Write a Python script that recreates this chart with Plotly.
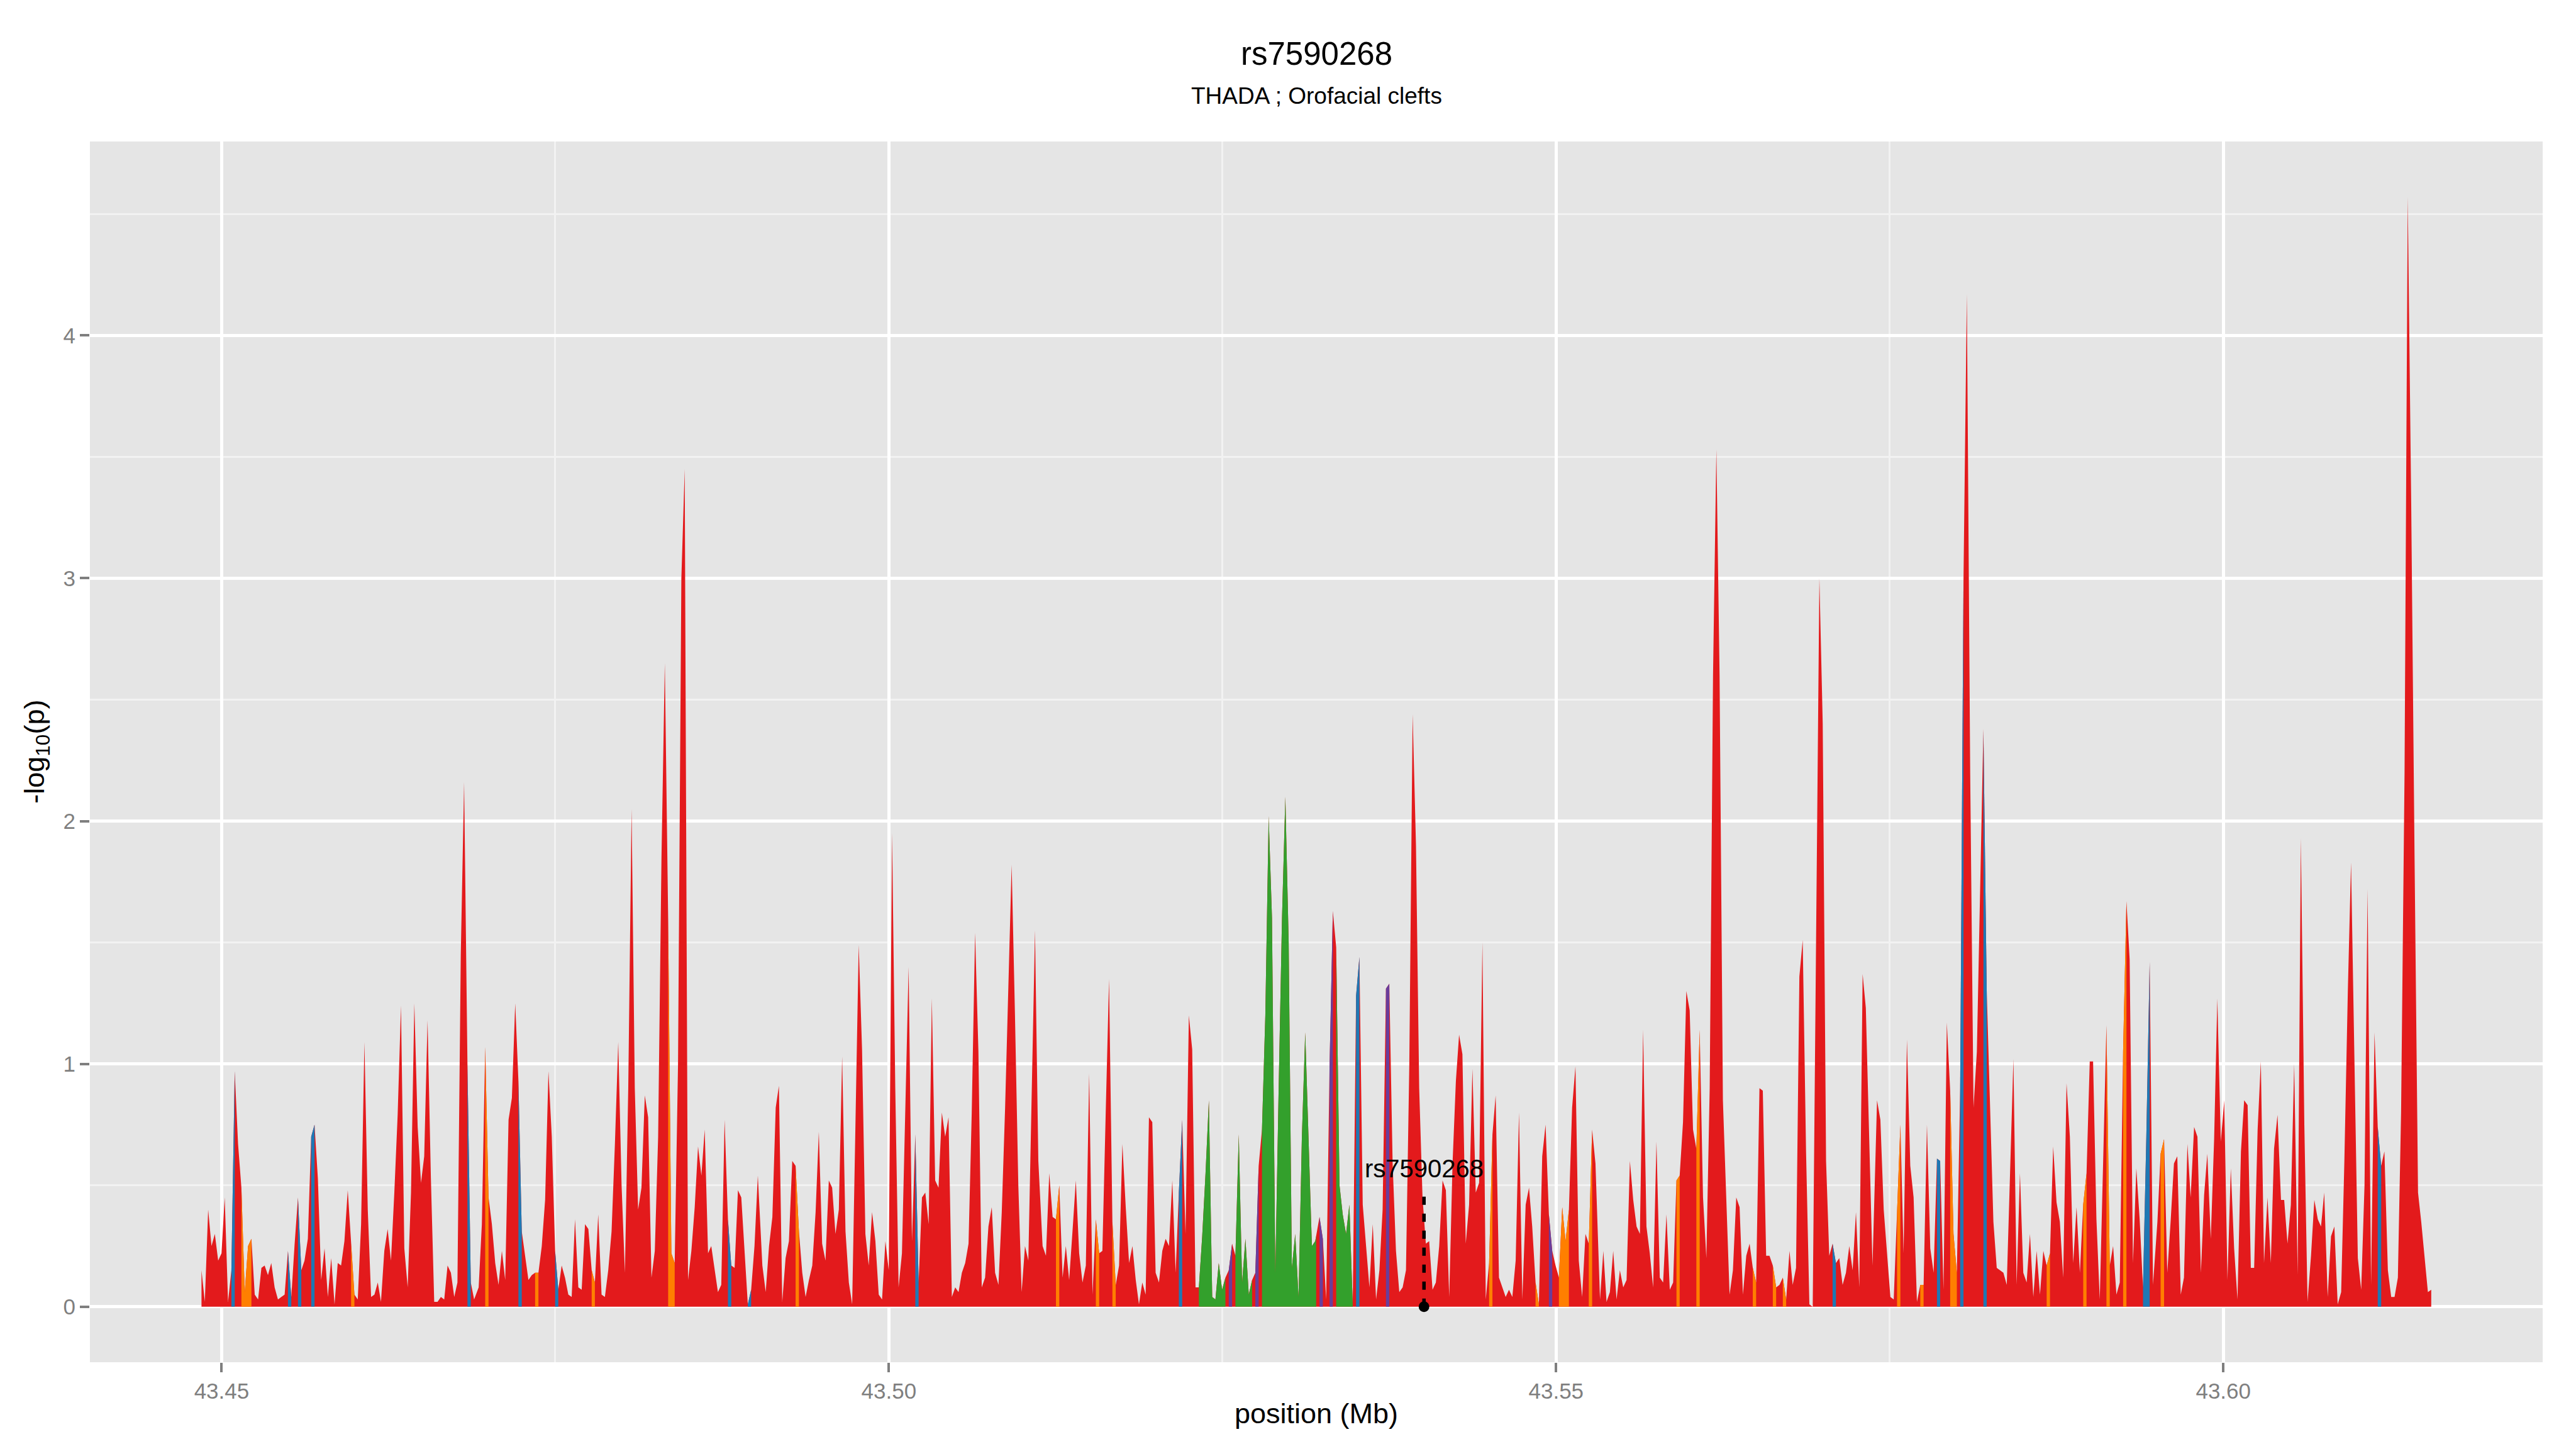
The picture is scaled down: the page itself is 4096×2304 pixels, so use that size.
import numpy as np
import plotly.graph_objects as go

# ---------------- data ----------------
positions_mb = [
43.44849,43.44874,43.44899,43.44924,43.44949,43.44974,43.44999,43.45023,43.45048,43.45073,
43.45098,43.45123,43.45148,43.45173,43.45198,43.45223,43.45248,43.45273,43.45298,43.45322,
43.45347,43.45372,43.45397,43.45422,43.45447,43.45472,43.45497,43.45522,43.45547,43.45572,
43.45597,43.45621,43.45646,43.45671,43.45696,43.45721,43.45746,43.45771,43.45796,43.45821,
43.45846,43.45870,43.45895,43.45920,43.45945,43.45970,43.45995,43.46020,43.46045,43.46070,
43.46095,43.46120,43.46145,43.46170,43.46194,43.46219,43.46244,43.46269,43.46294,43.46319,
43.46344,43.46369,43.46394,43.46419,43.46444,43.46469,43.46494,43.46518,43.46543,43.46568,
43.46593,43.46618,43.46643,43.46668,43.46693,43.46718,43.46743,43.46767,43.46792,43.46817,
43.46842,43.46867,43.46892,
43.46926,43.46950,43.46975,43.47000,43.47025,43.47050,43.47075,43.47100,43.47125,43.47150,
43.47175,43.47200,43.47224,43.47249,43.47274,43.47299,43.47324,43.47349,43.47374,43.47399,
43.47424,43.47449,43.47474,43.47499,43.47523,43.47548,43.47573,43.47598,43.47623,43.47648,
43.47673,43.47698,43.47723,43.47748,43.47773,43.47797,43.47822,43.47847,43.47872,43.47897,
43.47922,43.47947,43.47972,43.47997,43.48022,43.48047,43.48072,43.48096,43.48121,43.48146,
43.48171,43.48196,43.48221,43.48246,43.48271,43.48296,43.48321,43.48346,43.48370,43.48395,
43.48420,43.48445,43.48470,43.48495,43.48520,43.48545,43.48570,43.48595,43.48620,43.48645,
43.48669,43.48694,43.48719,43.48744,43.48769,43.48794,43.48819,43.48844,43.48869,43.48894,
43.48919,43.48943,43.48968,43.48993,43.49018,
43.49052,43.49077,43.49102,43.49127,43.49152,43.49176,43.49201,43.49226,43.49251,43.49276,
43.49301,43.49326,43.49351,43.49376,43.49401,43.49426,43.49451,43.49475,43.49500,43.49525,
43.49550,43.49575,43.49600,43.49625,43.49650,43.49675,43.49700,43.49725,43.49749,43.49774,
43.49799,43.49824,43.49849,43.49874,43.49899,43.49924,43.49949,43.49974,43.49999,43.50024,
43.50048,43.50073,43.50098,43.50123,43.50148,43.50173,43.50198,43.50223,43.50248,43.50273,
43.50298,43.50322,43.50347,43.50372,43.50397,43.50422,43.50447,43.50472,43.50497,43.50522,
43.50547,43.50572,43.50597,43.50621,43.50646,43.50671,43.50696,43.50721,43.50746,43.50771,
43.50796,43.50821,43.50846,43.50871,43.50895,43.50920,43.50945,43.50970,43.50995,43.51020,
43.51045,43.51070,43.51095,43.51120,
43.51152,43.51177,43.51202,43.51227,43.51252,43.51277,43.51302,43.51326,43.51351,43.51376,
43.51401,43.51426,43.51451,43.51476,43.51501,43.51526,43.51551,43.51576,43.51600,43.51625,
43.51650,43.51675,43.51700,43.51725,43.51750,43.51775,43.51800,43.51825,43.51850,43.51874,
43.51899,43.51924,43.51949,43.51974,43.51999,43.52024,43.52049,43.52074,43.52099,43.52124,
43.52149,43.52173,43.52198,43.52223,43.52248,43.52273,43.52298,43.52323,43.52348,43.52373,
43.52398,43.52423,43.52447,43.52472,43.52497,43.52522,43.52547,43.52572,43.52597,43.52622,
43.52647,43.52672,43.52697,43.52722,43.52746,43.52771,43.52796,43.52821,43.52846,43.52871,
43.52896,43.52921,43.52946,43.52971,43.52996,43.53020,43.53045,43.53070,43.53095,43.53120,
43.53145,43.53170,43.53195,
43.53227,43.53252,43.53277,43.53302,43.53327,43.53352,43.53377,43.53401,43.53426,43.53451,
43.53476,43.53501,43.53526,43.53551,43.53576,43.53601,43.53626,43.53651,43.53676,43.53700,
43.53725,43.53750,43.53775,43.53800,43.53825,43.53850,43.53875,43.53900,43.53925,43.53950,
43.53974,43.53999,43.54024,43.54049,43.54074,43.54099,43.54124,43.54149,43.54174,43.54199,
43.54224,43.54249,43.54273,43.54298,43.54323,43.54348,43.54373,43.54398,43.54423,43.54448,
43.54473,43.54498,43.54523,43.54547,43.54572,43.54597,43.54622,43.54647,43.54672,43.54697,
43.54722,43.54747,43.54772,43.54797,43.54821,43.54846,43.54871,43.54896,43.54921,43.54946,
43.54971,43.54996,43.55021,43.55046,43.55071,43.55096,43.55120,43.55145,43.55170,43.55195,
43.55220,43.55245,43.55270,43.55295,
43.55329,43.55354,43.55378,43.55403,43.55428,43.55453,43.55478,43.55503,43.55528,43.55553,
43.55578,43.55603,43.55628,43.55652,43.55677,43.55702,43.55727,43.55752,43.55777,43.55802,
43.55827,43.55852,43.55877,43.55902,43.55926,43.55951,43.55976,43.56001,43.56026,43.56051,
43.56076,43.56101,43.56126,43.56151,43.56176,43.56201,43.56225,43.56250,43.56275,43.56300,
43.56325,43.56350,43.56375,43.56400,43.56425,43.56450,43.56474,43.56499,43.56524,43.56549,
43.56574,43.56599,43.56624,43.56649,43.56674,43.56699,43.56724,43.56749,43.56773,43.56798,
43.56823,43.56848,43.56873,43.56898,43.56923,43.56948,43.56973,43.56998,43.57023,43.57047,
43.57072,43.57097,43.57122,43.57147,43.57172,43.57197,43.57222,43.57247,43.57272,43.57297,
43.57321,43.57346,43.57371,
43.57405,43.57430,43.57455,43.57480,43.57505,43.57530,43.57555,43.57580,43.57604,43.57629,
43.57654,43.57679,43.57704,43.57729,43.57754,43.57779,43.57804,43.57829,43.57854,43.57878,
43.57903,43.57928,43.57953,43.57978,43.58003,43.58028,43.58053,43.58078,43.58103,43.58128,
43.58153,43.58177,43.58202,43.58227,43.58252,43.58277,43.58302,43.58327,43.58352,43.58377,
43.58402,43.58427,43.58451,43.58476,43.58501,43.58526,43.58551,43.58576,43.58601,43.58626,
43.58651,43.58676,43.58701,43.58725,43.58750,43.58775,43.58800,43.58825,43.58850,43.58875,
43.58900,43.58925,43.58950,43.58975,43.58999,43.59024,43.59049,43.59074,43.59099,43.59124,
43.59149,43.59174,43.59199,43.59224,43.59249,43.59274,43.59298,43.59323,43.59348,43.59373,
43.59398,43.59423,43.59448,43.59473,
43.59506,43.59530,43.59556,43.59580,43.59606,43.59630,43.59655,43.59681,43.59705,43.59731,
43.59755,43.59781,43.59806,43.59832,43.59856,43.59880,43.59906,43.59931,43.59955,43.59981,
43.60007,43.60031,43.60056,43.60081,43.60106,43.60132,43.60156,43.60182,43.60206,43.60231,
43.60257,43.60281,43.60305,43.60331,43.60356,43.60380,43.60406,43.60432,43.60456,43.60481,
43.60506,43.60531,43.60557,43.60581,43.60607,43.60631,43.60657,43.60682,43.60708,43.60732,
43.60756,43.60782,43.60807,43.60832,43.60857,43.60883,43.60907,43.60933,43.60957,43.60983,
43.61008,43.61033,43.61058,43.61081,43.61107,43.61133,43.61157,43.61183,43.61207,43.61233,
43.61258,43.61283,43.61308,43.61332,43.61358,43.61382,43.61408,43.61433,43.61459,43.61483,
43.61509,43.61533,43.61558,
]

neg_log10_p = [
0.15,0.02,0.40,0.25,0.30,0.19,0.22,0.45,0.02,0.15,
0.97,0.67,0.49,0.06,0.25,0.28,0.05,0.03,0.16,0.17,
0.13,0.18,0.08,0.03,0.04,0.05,0.23,0.04,0.26,0.45,
0.15,0.19,0.28,0.70,0.75,0.53,0.11,0.24,0.04,0.20,
0.01,0.18,0.17,0.27,0.48,0.26,0.05,0.03,0.34,1.09,
0.40,0.04,0.05,0.10,0.02,0.23,0.32,0.19,0.47,0.79,
1.24,0.24,0.08,0.47,1.25,0.74,0.51,0.62,1.18,0.53,
0.02,0.02,0.04,0.03,0.17,0.14,0.04,0.10,1.45,2.16,
1.00,0.10,0.03,
0.08,0.34,1.07,0.45,0.34,0.18,0.09,0.23,0.11,0.77,
0.86,1.25,0.93,0.31,0.21,0.11,0.13,0.14,0.14,0.25,
0.44,0.97,0.70,0.23,0.07,0.17,0.12,0.05,0.04,0.36,
0.08,0.07,0.34,0.32,0.15,0.10,0.38,0.05,0.04,0.15,
0.31,0.67,1.09,0.50,0.14,0.90,2.05,0.90,0.40,0.49,
0.87,0.78,0.12,0.23,0.70,1.85,2.65,1.60,0.22,0.18,
1.00,3.00,3.45,0.11,0.23,0.41,0.66,0.54,0.73,0.22,
0.25,0.16,0.06,0.09,0.77,0.36,0.17,0.16,0.48,0.45,
0.22,0.01,0.07,0.25,0.54,
0.17,0.06,0.25,0.37,0.82,0.91,0.02,0.20,0.27,0.60,
0.58,0.31,0.14,0.04,0.11,0.17,0.39,0.72,0.26,0.19,
0.52,0.49,0.30,0.40,1.03,0.31,0.10,0.01,0.70,1.49,
1.06,0.30,0.17,0.39,0.27,0.05,0.03,0.27,0.15,1.95,
0.90,0.08,0.22,0.82,1.40,0.27,0.71,0.10,0.45,0.47,
0.34,1.27,0.52,0.49,0.80,0.70,0.78,0.04,0.08,0.06,
0.14,0.18,0.26,0.80,1.54,1.05,0.08,0.12,0.33,0.41,
0.14,0.09,0.39,0.82,1.30,1.82,1.20,0.50,0.06,0.25,
0.19,0.90,1.55,0.60,
0.25,0.21,0.55,0.37,0.36,0.50,0.12,0.25,0.11,0.31,
0.52,0.22,0.10,0.17,0.96,0.05,0.36,0.22,0.23,0.80,
1.35,0.35,0.09,0.17,0.67,0.41,0.18,0.25,0.11,0.01,
0.10,0.05,0.78,0.76,0.14,0.10,0.23,0.28,0.25,0.52,
0.14,0.47,0.77,0.30,1.20,1.06,0.08,0.08,0.29,0.55,
0.85,0.04,0.03,0.18,0.07,0.12,0.15,0.26,0.21,0.71,
0.10,0.28,0.05,0.11,0.14,0.58,0.73,1.20,2.02,1.60,
0.14,0.90,1.60,2.10,1.50,0.16,0.30,0.04,0.70,1.13,
0.70,0.25,0.27,
0.37,0.28,0.03,0.98,1.63,1.48,0.50,0.38,0.30,0.42,
0.01,1.28,1.44,0.42,0.24,0.08,0.34,0.03,0.15,0.40,
1.31,1.33,0.59,0.23,0.06,0.08,0.15,1.00,2.44,1.90,
0.90,0.45,0.26,0.27,0.07,0.10,0.25,0.52,0.48,0.04,
0.59,0.93,1.12,1.04,0.26,0.42,0.98,0.47,0.51,1.50,
0.03,0.18,0.71,0.87,0.12,0.08,0.04,0.07,0.04,0.19,
0.80,0.03,0.42,0.49,0.33,0.10,0.01,0.62,0.75,0.38,
0.23,0.17,0.12,0.41,0.27,0.40,0.82,0.99,0.19,0.04,
0.30,0.26,0.73,0.59,
0.03,0.23,0.02,0.06,0.23,0.03,0.15,0.08,0.11,0.60,
0.44,0.33,0.30,1.14,0.33,0.22,0.08,0.68,0.12,0.10,
0.38,0.07,0.10,0.52,0.54,0.76,1.30,1.22,0.73,0.65,
1.14,0.45,0.20,0.90,2.60,3.53,2.60,0.85,0.45,0.05,
0.15,0.45,0.41,0.05,0.21,0.26,0.16,0.10,0.90,0.89,
0.21,0.21,0.17,0.08,0.09,0.12,0.03,0.23,0.09,0.16,
1.36,1.51,0.64,0.01,0.00,1.50,3.00,2.40,0.60,0.21,
0.26,0.18,0.20,0.09,0.14,0.25,0.15,0.39,0.08,1.37,
1.23,0.70,0.17,
0.85,0.77,0.40,0.23,0.04,0.03,0.39,0.75,0.22,1.10,
0.58,0.45,0.02,0.09,0.09,0.75,0.24,0.14,0.61,0.60,
0.07,1.17,0.89,0.30,0.14,0.90,3.00,4.17,2.20,0.82,
1.05,1.70,2.38,1.30,0.80,0.35,0.16,0.15,0.14,0.09,
0.55,1.02,0.09,0.55,0.14,0.10,0.30,0.04,0.23,0.05,
0.23,0.17,0.22,0.66,0.43,0.35,0.12,0.92,0.70,0.18,
0.41,0.14,0.42,0.55,1.01,1.01,0.36,0.03,0.59,1.16,
0.17,0.25,0.05,0.10,1.05,1.67,1.43,0.18,0.57,0.36,
0.08,0.70,1.42,0.09,
0.35,0.63,0.69,0.14,0.36,0.59,0.62,0.05,0.12,0.67,
0.45,0.74,0.70,0.14,0.46,0.63,0.28,0.69,1.27,0.68,
0.85,0.11,0.57,0.24,0.03,0.64,0.85,0.83,0.16,0.16,
0.73,1.01,0.18,0.45,0.18,0.65,0.79,0.44,0.44,0.26,
0.42,1.00,0.13,1.93,0.75,0.02,0.21,0.44,0.36,0.33,
0.47,0.04,0.29,0.33,0.01,0.06,0.60,1.30,1.83,1.00,
0.20,0.07,0.50,1.72,0.09,1.13,0.74,0.58,0.64,0.15,
0.04,0.04,0.12,0.80,2.20,4.57,3.30,1.85,0.47,0.35,
0.19,0.06,0.07,
]

# LD-coloured stretches of the track: start / end (Mb) and class
ld_start = [43.45073,43.45148,43.45497,43.45572,43.45671,43.45970,43.46842,
            43.46975,43.47224,43.47349,43.47499,43.47773,43.48346,43.48794,43.48943,
            43.49301,43.50198,
            43.51252,43.51551,43.51675,43.52173,43.52323,43.52547,43.52597,43.52746,43.52796,
            43.53227,43.53302,43.53352,43.53501,43.53725,43.54498,43.54846,43.54946,43.55021,43.55245,
            43.55902,43.56051,43.56474,43.56624,43.56699,43.57072,
            43.57555,43.57729,43.57854,43.57953,43.58028,43.58202,43.58676,43.58950,43.59124,43.59249,43.59398,
            43.59530,43.61157]
ld_end   = [43.45098,43.45223,43.45522,43.45597,43.45696,43.45995,43.46867,
            43.47000,43.47249,43.47374,43.47523,43.47797,43.48395,43.48819,43.48968,
            43.49326,43.50223,
            43.51277,43.51576,43.51700,43.52198,43.52522,43.52572,43.52722,43.52771,43.53202,
            43.53252,43.53327,43.53476,43.53526,43.53750,43.54523,43.54871,43.54971,43.55096,43.55270,
            43.55926,43.56076,43.56499,43.56649,43.56724,43.57097,
            43.57580,43.57754,43.57878,43.58003,43.58053,43.58227,43.58701,43.58975,43.59149,43.59274,43.59448,
            43.59556,43.61183]
ld_class = ["blue","orange","blue","blue","blue","orange","blue",
            "orange","blue","orange","blue","orange","orange","blue","blue",
            "orange","blue",
            "orange","orange","orange","blue","green","purple","green","purple","green",
            "purple","purple","green","blue","purple","orange","orange","purple","orange","orange",
            "orange","orange","orange","orange","orange","blue",
            "orange","orange","blue","orange","blue","blue","orange","orange","orange","orange","blue",
            "orange","blue"]

snp_name = "rs7590268"
snp_pos = 43.5401
snp_line_top = 0.46
snp_label_y = 0.57

title_text = "rs7590268"
subtitle_text = "THADA ; Orofacial clefts"
x_ticks = [43.45, 43.50, 43.55, 43.60]
x_ticklabels = ["43.45", "43.50", "43.55", "43.60"]
x_minor = [43.475, 43.525, 43.575]
y_ticks = [0, 1, 2, 3, 4]
y_ticklabels = ["0", "1", "2", "3", "4"]
y_minor = [0.5, 1.5, 2.5, 3.5, 4.5]

# ---------------- style ----------------
COLORS = {"red": "#E31A1C", "blue": "#1F78B4", "orange": "#FF7F00",
          "green": "#33A02C", "purple": "#6A3D9A"}
FONT = "Liberation Sans, Arial, Helvetica, sans-serif"
GREY = "#7F7F7F"

pos = np.array(positions_mb)
val = np.array(neg_log10_p)
order = np.argsort(pos)
pos, val = pos[order], val[order]

fig = go.Figure()
fig.add_trace(go.Scatter(x=pos, y=val, mode="lines", fill="tozeroy",
                         line=dict(width=0, color=COLORS["red"]),
                         fillcolor=COLORS["red"], hoverinfo="skip", showlegend=False))

for s, e, c in zip(ld_start, ld_end, ld_class):
    inner = [p for p in pos if s < p < e]
    xs = [s] + inner + [e]
    ys = list(np.interp(xs, pos, val))
    fig.add_trace(go.Scatter(x=[s] + xs + [e], y=[0] + ys + [0], mode="lines",
                             fill="toself", fillcolor=COLORS[c],
                             line=dict(width=0, color=COLORS[c]),
                             hoverinfo="skip", showlegend=False))

# index SNP marker
fig.add_trace(go.Scatter(x=[snp_pos, snp_pos], y=[0, snp_line_top], mode="lines",
                         line=dict(color="black", width=5.5, dash="13px,14px"),
                         hoverinfo="skip", showlegend=False))
fig.add_trace(go.Scatter(x=[snp_pos], y=[0], mode="markers",
                         marker=dict(color="black", size=17),
                         hoverinfo="skip", showlegend=False))

fig.add_annotation(x=snp_pos, y=snp_label_y, xref="x", yref="y", text=snp_name,
                   showarrow=False, font=dict(family=FONT, size=40, color="black"),
                   xanchor="center", yanchor="middle")

# titles
fig.add_annotation(x=0.5, y=1.0721, xref="paper", yref="paper", text=title_text,
                   showarrow=False, font=dict(family=FONT, size=51, color="black"),
                   xanchor="center", yanchor="middle")
fig.add_annotation(x=0.5, y=1.0371, xref="paper", yref="paper", text=subtitle_text,
                   showarrow=False, font=dict(family=FONT, size=37, color="black"),
                   xanchor="center", yanchor="middle")
fig.add_annotation(x=0.5, y=-0.0422, xref="paper", yref="paper", text="position (Mb)",
                   showarrow=False, font=dict(family=FONT, size=45, color="black"),
                   xanchor="center", yanchor="middle")
fig.add_annotation(x=-0.0220, y=0.5, xref="paper", yref="paper",
                   text="-log<sub>10</sub>(p)", textangle=-90,
                   showarrow=False, font=dict(family=FONT, size=45, color="black"),
                   xanchor="center", yanchor="middle")

fig.update_layout(
    width=4096, height=2304,
    margin=dict(l=143, r=53, t=225, b=138),
    paper_bgcolor="white", plot_bgcolor="#E5E5E5",
    showlegend=False, hovermode=False,
    font=dict(family=FONT, color=GREY),
    xaxis=dict(range=[43.44013, 43.62393], tickmode="array", tickvals=x_ticks,
               ticktext=x_ticklabels, ticks="outside", ticklen=15, tickwidth=4,
               tickcolor=GREY, tickfont=dict(family=FONT, size=35, color=GREY),
               showgrid=True, gridcolor="white", gridwidth=5,
               zeroline=False, showline=False,
               minor=dict(tickmode="array", tickvals=x_minor, showgrid=True,
                          gridcolor="#F2F2F2", gridwidth=2.5, ticks="")),
    yaxis=dict(range=[-0.2285, 4.7985], tickmode="array", tickvals=y_ticks,
               ticktext=y_ticklabels, ticks="outside", ticklen=15, tickwidth=4,
               tickcolor=GREY, tickfont=dict(family=FONT, size=35, color=GREY),
               showgrid=True, gridcolor="white", gridwidth=5,
               zeroline=False, showline=False,
               minor=dict(tickmode="array", tickvals=y_minor, showgrid=True,
                          gridcolor="#F2F2F2", gridwidth=2.5, ticks="")),
)

fig.write_html("out.html", config={"displayModeBar": False},
               post_script="document.body.style.margin='0';document.body.style.overflow='hidden';")
